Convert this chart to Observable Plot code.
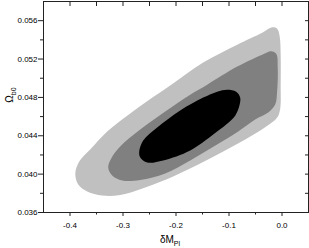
<!DOCTYPE html>
<html>
<head>
<meta charset="utf-8">
<script src="https://cdn.jsdelivr.net/npm/d3@7"></script>
<script src="https://cdn.jsdelivr.net/npm/@observablehq/plot@0.6"></script>
<style>
  html, body { margin: 0; padding: 0; background: #fff; }
</style>
</head>
<body>
<div id="chart"></div>
<script>
// Outer (lightest) confidence region boundary: dM_Pl, Omega_b0
const outerX = [-0.390,-0.3826,-0.3619,-0.3298,-0.2921,-0.2525,-0.2109,-0.1487,-0.0845,-0.0374,-0.0185,-0.0091,-0.0043,-0.0025,-0.0025,-0.0034,-0.0091,-0.0298,-0.0694,-0.1109,-0.1543,-0.2053,-0.2581,-0.3053,-0.3392,-0.3675,-0.3845];
const outerY = [0.04006,0.04131,0.04256,0.04444,0.04610,0.04767,0.04923,0.05163,0.05350,0.05475,0.05532,0.05517,0.05433,0.05235,0.04923,0.04683,0.04590,0.04496,0.04360,0.04235,0.04110,0.03975,0.03860,0.03782,0.03777,0.03819,0.03892];
// Middle region boundary
const midX = [-0.3279,-0.3223,-0.3053,-0.2675,-0.2204,-0.1732,-0.1411,-0.0845,-0.0374,-0.0204,-0.0109,-0.0080,-0.0091,-0.0128,-0.0260,-0.0506,-0.0826,-0.1257,-0.1732,-0.2204,-0.2675,-0.3015,-0.3204];
const midY = [0.04069,0.04163,0.04288,0.04465,0.04652,0.04829,0.04933,0.05121,0.05246,0.05282,0.05256,0.05100,0.04871,0.04725,0.04642,0.04569,0.04444,0.04298,0.04142,0.04006,0.03939,0.03933,0.03985];
// Inner (black) region boundary
const innerX = [-0.2694,-0.2619,-0.2355,-0.1921,-0.1487,-0.1223,-0.1034,-0.0864,-0.0789,-0.0808,-0.0883,-0.1053,-0.1298,-0.1732,-0.2242,-0.2543,-0.2675];
const innerY = [0.04235,0.04350,0.04485,0.04663,0.04798,0.04860,0.04881,0.04860,0.04798,0.04704,0.04610,0.04517,0.04413,0.04246,0.04142,0.04121,0.04173];

const majorX = [-0.4,-0.3,-0.2,-0.1,0.0];
const minorX = [-0.35,-0.25,-0.15,-0.05];
const majorY = [0.036,0.040,0.044,0.048,0.052,0.056];
const minorY = [0.038,0.042,0.046,0.050,0.054];

const toPts = (xs, ys) => xs.map((x, i) => ({x, y: ys[i]}));
const outer = toPts(outerX, outerY);
const mid = toPts(midX, midY);
const inner = toPts(innerX, innerY);

const blank = () => "";
const axisColor = "#222";

const chart = Plot.plot({
  width: 309,
  height: 248,
  marginLeft: 43,
  marginRight: 1,
  marginTop: 1,
  marginBottom: 36,
  x: {domain: [-0.45, 0.05]},
  y: {domain: [0.036, 0.058]},
  style: {fontFamily: "'Liberation Sans', Arial, sans-serif", fontSize: "8px", color: "#000", background: "#fff"},
  marks: [
    Plot.line(outer, {x: "x", y: "y", fill: "#c0c0c0", stroke: "none", curve: "catmull-rom-closed"}),
    Plot.line(mid, {x: "x", y: "y", fill: "#808080", stroke: "none", curve: "catmull-rom-closed"}),
    Plot.line(inner, {x: "x", y: "y", fill: "#000", stroke: "none", curve: "catmull-rom-closed"}),
    Plot.frame({stroke: axisColor}),
    Plot.axisX({ticks: majorX, tickSize: 4, tickPadding: 5.5, tickFormat: d => d.toFixed(1), label: null, stroke: axisColor}),
    Plot.axisX({ticks: minorX, tickSize: 2.5, tickFormat: blank, label: null, stroke: axisColor}),
    Plot.axisX({anchor: "top", ticks: majorX.concat(minorX), tickSize: -4, tickFormat: blank, label: null, stroke: axisColor}),
    Plot.axisY({ticks: majorY, tickSize: 5, tickPadding: 1, tickFormat: d => d.toFixed(3), label: null, stroke: axisColor}),
    Plot.axisY({ticks: minorY, tickSize: 3, tickFormat: blank, label: null, stroke: axisColor}),
    Plot.axisY({anchor: "right", ticks: majorY.concat(minorY), tickSize: -4, tickFormat: blank, label: null, stroke: axisColor})
  ]
});

document.getElementById("chart").appendChild(chart);

const svg = d3.select(chart);
const xl = svg.append("text")
  .attr("x", 170).attr("y", 243)
  .attr("text-anchor", "middle")
  .style("font-size", "10px").style("font-family", "'Liberation Sans', Arial, sans-serif");
xl.append("tspan").text("δM");
xl.append("tspan").attr("dy", 3).style("font-size", "7px").text("Pl");

const yl = svg.append("text")
  .attr("transform", "translate(13,95) rotate(-90)")
  .attr("text-anchor", "middle")
  .style("font-size", "10px").style("font-family", "'Liberation Sans', Arial, sans-serif");
yl.append("tspan").text("Ω");
yl.append("tspan").attr("dy", 3).style("font-size", "7px").text("b0");
</script>
</body>
</html>
